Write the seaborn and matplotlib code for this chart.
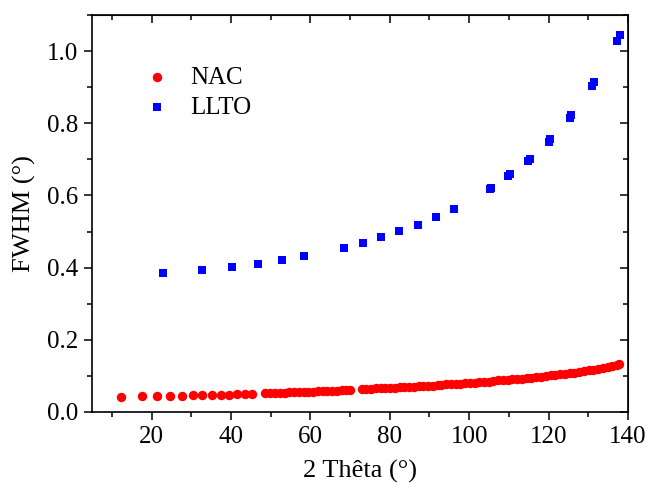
import matplotlib
matplotlib.use("Agg")
import matplotlib.pyplot as plt
import seaborn as sns
import pandas as pd
from matplotlib.ticker import MultipleLocator, FormatStrFormatter

# NAC reference peaks (2 theta, FWHM)
nac_x = [12.3, 17.5, 21.4, 24.7, 27.7, 30.4, 32.8, 35.2, 37.4, 39.5, 41.5, 43.5, 45.3,
         48.7, 49.9, 51.1, 52.3, 53.5, 54.7, 55.9, 57.1, 58.3, 59.5, 60.7, 61.9, 63.1,
         64.3, 65.5, 66.7, 67.9, 69.1, 70.0,
         72.9, 74.1, 75.3, 76.5, 77.7, 78.9, 80.1, 81.3, 82.5, 83.7, 84.9, 86.1, 87.3,
         88.5, 89.7, 90.9, 92.1,
         93.0, 94.2, 95.4, 96.6, 97.8, 99.0, 100.2, 101.4, 102.6, 103.8, 105.0,
         106.1, 107.3, 108.5, 109.7, 110.9, 112.1, 113.3,
         114.5, 115.7, 116.9, 118.1, 119.3, 120.5, 121.7, 122.9, 124.1, 125.3, 126.5,
         127.7, 128.9, 130.1, 131.3, 132.5, 133.7, 134.9, 136.1, 137.3, 137.8]
nac_fwhm = [0.042, 0.043, 0.044, 0.044, 0.045, 0.046, 0.046, 0.047, 0.048, 0.048, 0.049, 0.049, 0.050,
            0.051, 0.052, 0.052, 0.053, 0.053, 0.054, 0.054, 0.055, 0.055, 0.056, 0.056, 0.057, 0.058,
            0.058, 0.059, 0.059, 0.060, 0.061, 0.061,
            0.063, 0.063, 0.064, 0.065, 0.065, 0.066, 0.067, 0.067, 0.068, 0.069, 0.069, 0.070, 0.071,
            0.071, 0.072, 0.073, 0.074,
            0.075, 0.076, 0.077, 0.077, 0.078, 0.079, 0.080, 0.081, 0.082, 0.083, 0.084,
            0.086, 0.087, 0.088, 0.089, 0.090, 0.091, 0.092,
            0.094, 0.095, 0.097, 0.098, 0.099, 0.101, 0.102, 0.104, 0.105, 0.107, 0.109,
            0.111, 0.113, 0.115, 0.117, 0.119, 0.122, 0.125, 0.128, 0.131, 0.134]

# LLTO sample peaks
llto_x = [22.9, 32.7, 40.3, 46.9, 52.8, 58.4, 68.5, 73.3, 77.9, 82.4, 87.1, 91.6, 96.1,
          105.2, 105.6, 109.9, 110.3, 114.9, 115.3, 120.0, 120.4, 125.3, 125.7,
          131.0, 131.4, 137.2, 137.9]
llto_fwhm = [0.384, 0.393, 0.401, 0.410, 0.420, 0.432, 0.455, 0.469, 0.484, 0.501, 0.519, 0.540, 0.563,
             0.617, 0.621, 0.653, 0.659, 0.696, 0.702, 0.749, 0.756, 0.814, 0.822,
             0.903, 0.914, 1.028, 1.044]

nac = pd.DataFrame({"theta": nac_x, "fwhm": nac_fwhm})
llto = pd.DataFrame({"theta": llto_x, "fwhm": llto_fwhm})

sns.set_style("ticks")
plt.rcParams["font.family"] = ["Liberation Serif", "DejaVu Serif"]
plt.rcParams["text.color"] = "black"
plt.rcParams["axes.labelcolor"] = "black"
plt.rcParams["xtick.color"] = "black"
plt.rcParams["ytick.color"] = "black"

fig = plt.figure(figsize=(6.48, 4.88), dpi=100)
ax = fig.add_axes([0.142, 0.156, 0.827, 0.813])

sns.scatterplot(data=nac, x="theta", y="fwhm", color="#ff0000", marker="o",
                s=46, linewidth=0, label="NAC", ax=ax)
sns.scatterplot(data=llto, x="theta", y="fwhm", color="#0000ff", marker="s",
                s=36, linewidth=0, label="LLTO", ax=ax)

ax.set_xlim(5, 140)
ax.set_ylim(0, 1.1)
ax.xaxis.set_major_locator(MultipleLocator(20))
ax.xaxis.set_minor_locator(MultipleLocator(10))
ax.yaxis.set_major_locator(MultipleLocator(0.2))
ax.yaxis.set_minor_locator(MultipleLocator(0.1))
ax.yaxis.set_major_formatter(FormatStrFormatter("%.1f"))

for side in ["left", "right", "top", "bottom"]:
    ax.spines[side].set_visible(True)
    ax.spines[side].set_linewidth(1.2)
    ax.spines[side].set_color("black")

ax.tick_params(which="both", direction="out", colors="black", width=1.1,
               labelsize=18, top=False, right=False, pad=4)
ax.tick_params(which="major", length=6)
ax.tick_params(which="minor", length=3.5)

# inward ticks on the mirrored top/right edges
ax_t = ax.secondary_xaxis("top")
ax_t.xaxis.set_major_locator(MultipleLocator(20))
ax_t.xaxis.set_minor_locator(MultipleLocator(10))
ax_t.tick_params(which="both", direction="in", labeltop=False, width=1.1)
ax_t.tick_params(which="major", length=6)
ax_t.tick_params(which="minor", length=3.5)
ax_r = ax.secondary_yaxis("right")
ax_r.yaxis.set_major_locator(MultipleLocator(0.2))
ax_r.yaxis.set_minor_locator(MultipleLocator(0.1))
ax_r.tick_params(which="both", direction="in", labelright=False, width=1.1)
ax_r.tick_params(which="major", length=6)
ax_r.tick_params(which="minor", length=3.5)

ax.set_xlabel("2 Thêta (°)", fontsize=19, labelpad=9)
ax.set_ylabel("FWHM (°)", fontsize=19, labelpad=8)

ax.legend(loc="upper left", bbox_to_anchor=(0.033, 0.928), frameon=False,
          fontsize=18, handletextpad=0.32, labelspacing=0.3)

fig.savefig("out.png", dpi=100)
